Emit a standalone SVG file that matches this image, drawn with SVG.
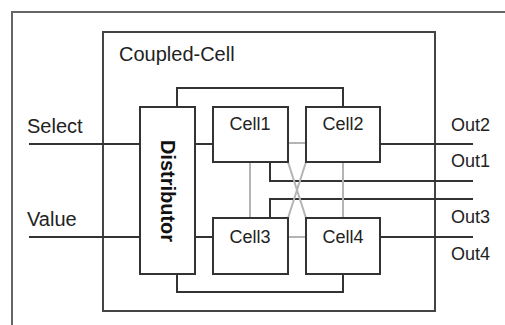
<svg xmlns="http://www.w3.org/2000/svg" width="505" height="325" viewBox="0 0 505 325">
<style>
.box{fill:#fff;stroke:#333;stroke-width:2}
.w{fill:none;stroke:#333;stroke-width:2}
.g{fill:none;stroke:#b4b4b4;stroke-width:2}
.t{font-family:"Liberation Sans",Arial,sans-serif;font-size:20px;fill:#222}
.o{font-family:"Liberation Sans",Arial,sans-serif;font-size:18px;fill:#222}
.c{font-family:"Liberation Sans",Arial,sans-serif;font-size:18px;fill:#222;text-anchor:middle}
</style>
<rect width="505" height="325" fill="#fff"/>
<path d="M12,330 V12 H510" fill="none" stroke="#666" stroke-width="2"/>
<g id="coupled-cell">
<rect x="103" y="32" width="332" height="279" fill="none" stroke="#444" stroke-width="2"/>
<text class="t" x="119" y="61">Coupled-Cell</text>
</g>
<g id="connectors">
<path class="w" d="M29,144 H140 M29,237 H140"/>
<path class="w" d="M195,144 H213 M195,237 H213"/>
<path class="w" d="M177,107 V88 H343 V107"/>
<path class="w" d="M177,274 V292 H343 V274"/>
<path class="w" d="M380,144 H473 M380,237 H473"/>
<path class="w" d="M270,162 V181 H473"/>
<path class="w" d="M270,218 V199 H473"/>
<path class="g" d="M288,143 H306 M288,237 H306 M250,162 V218 M343,162 V218"/>
<path class="g" d="M288,162 L306,218 M306,162 L288,218"/>
</g>
<g id="distributor">
<rect class="box" x="140" y="107" width="55" height="167"/>
<text x="168" y="191" transform="rotate(90 168 191)" font-family="'Liberation Sans',Arial,sans-serif" font-size="20" font-weight="bold" fill="#111" text-anchor="middle" dominant-baseline="central">Distributor</text>
</g>
<g id="cell1"><rect class="box" x="213" y="107" width="75" height="55"/><text class="c" x="250" y="130">Cell1</text></g>
<g id="cell2"><rect class="box" x="306" y="107" width="74" height="55"/><text class="c" x="343" y="130">Cell2</text></g>
<g id="cell3"><rect class="box" x="213" y="218" width="75" height="56"/><text class="c" x="250" y="243">Cell3</text></g>
<g id="cell4"><rect class="box" x="306" y="218" width="74" height="56"/><text class="c" x="343" y="243">Cell4</text></g>
<g id="labels">
<text class="t" x="27" y="133">Select</text>
<text class="t" x="27" y="226">Value</text>
<text class="o" x="451" y="131">Out2</text>
<text class="o" x="451" y="167">Out1</text>
<text class="o" x="451" y="223">Out3</text>
<text class="o" x="451" y="260">Out4</text>
</g>
</svg>
